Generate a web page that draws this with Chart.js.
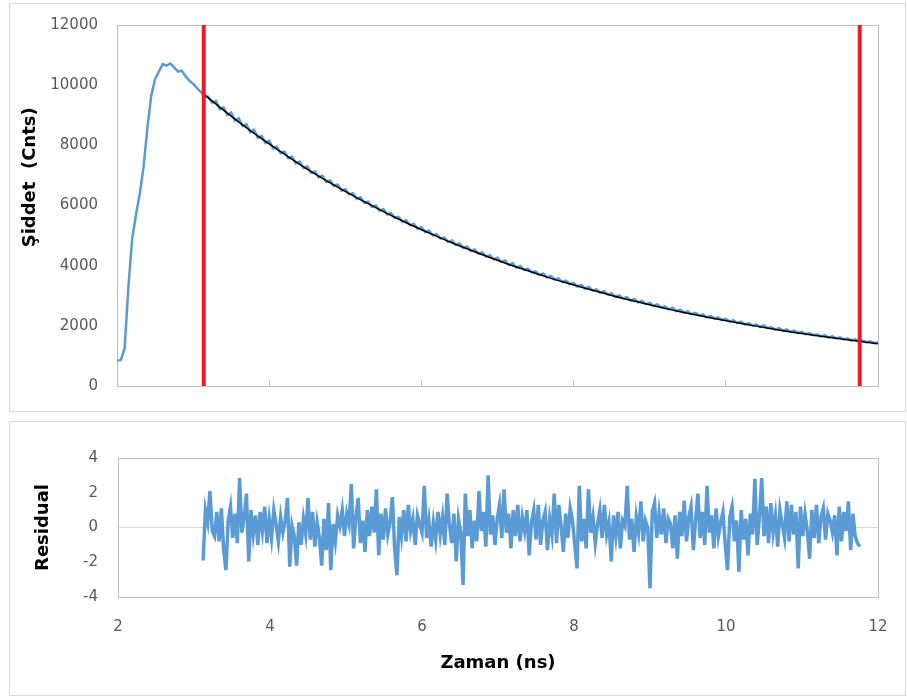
<!DOCTYPE html>
<html>
<head>
<meta charset="utf-8">
<script src="https://cdn.jsdelivr.net/npm/chart.js@4.4.0/dist/chart.umd.min.js"></script>
<style>
  body { margin: 0; background: #fff; }
  .box { position: absolute; left: 9px; width: 897px; border: 1px solid #d9d9d9; box-sizing: border-box; background: #fff; }
  #topBox { top: 3px; height: 409px; }
  #botBox { top: 421px; height: 275px; }
  canvas { display: block; }
</style>
</head>
<body>
<div class="box" id="topBox"><canvas id="decayChart" width="895" height="407"></canvas></div>
<div class="box" id="botBox"><canvas id="residChart" width="895" height="273"></canvas></div>
<script>
// measured decay, every 0.05 ns from 2.00 ns
var decayStart = 2.0, decayStep = 0.05;
var decayCounts = [
  850, 860, 1250, 3300, 4900, 5700, 6400, 7300, 8600, 9650,
  10200, 10450, 10700, 10650, 10720, 10600, 10450, 10480, 10300, 10150,
  10050, 9900, 9780,
  9650, 9610, 9420, 9480, 9200, 9260, 9010, 9090, 8820, 8900,
  8640, 8700, 8440, 8520, 8250, 8310, 8080, 8150, 7900, 7950,
  7740, 7790, 7570, 7620, 7400, 7460, 7240, 7300, 7090, 7130,
  6940, 6990, 6780, 6830, 6650, 6700, 6490, 6540, 6370, 6410,
  6220, 6270, 6090, 6130, 5960, 6000, 5830, 5880, 5700, 5750,
  5590, 5620, 5460, 5510, 5340, 5390, 5230, 5280, 5120, 5160,
  5010, 5050, 4900, 4940, 4790, 4840, 4690, 4740, 4590, 4640,
  4490, 4540, 4400, 4440, 4300, 4350, 4210, 4260, 4120, 4170,
  4030, 4080, 3940, 3990, 3860, 3900, 3780, 3810, 3690, 3740,
  3610, 3660, 3540, 3580, 3460, 3500, 3390, 3430, 3310, 3360,
  3240, 3290, 3170, 3210, 3100, 3150, 3040, 3080, 2970, 3010,
  2910, 2950, 2840, 2890, 2780, 2830, 2720, 2770, 2660, 2710,
  2610, 2650, 2550, 2600, 2490, 2540, 2440, 2480, 2390, 2430,
  2340, 2380, 2280, 2330, 2240, 2280, 2190, 2230, 2140, 2190,
  2090, 2140, 2050, 2090, 2000, 2050, 1960, 2010, 1920, 1960,
  1880, 1920, 1840, 1880, 1800, 1840, 1760, 1800, 1720, 1760,
  1690, 1720, 1650, 1690, 1610, 1650, 1580, 1620, 1540, 1580,
  1510, 1550, 1480, 1510, 1450, 1490, 1420, 1450
];

// fitted curve, every 0.25 ns from 3.15 ns
var fitStart = 3.15, fitStep = 0.25;
var fitCounts = [9680, 9170, 8680, 8220, 7790, 7370, 6980, 6610, 6260, 5930,
  5610, 5310, 5030, 4760, 4510, 4270, 4040, 3830, 3620, 3430,
  3250, 3080, 2910, 2760, 2610, 2470, 2340, 2220, 2100, 1990,
  1880, 1780, 1690, 1600, 1520, 1440, 1360];

// fit window limits (ns)
var windowTimes = [3.14, 11.76];

// residuals, every 0.03 ns from 3.12 ns
var residStart = 3.12, residStep = 0.03;
var residuals = [
  -1.9, 1.0, 0.3, 2.1, -0.2, -0.5, 0.9, -0.8, 1.1, -1.3,
  -2.45, 0.4, 1.2, -0.6, 0.8, -0.9, 2.85, -0.3, 0.6, 1.95,
  -1.95, 1.0, -0.4, 0.7, -1.0, 0.9, -0.2, 1.2, -0.9, 0.5,
  -0.6, 1.0, 0.2, -0.8, 0.6, -0.3, 0.4, 1.7, -2.25, 0.1,
  -0.5, -2.2, 0.3, -1.0, 0.5, -0.4, 1.7, -0.7, 0.9, -1.1,
  0.3, -0.6, -2.2, 0.5, -1.3, 1.4, -2.45, 0.2, -0.8, 0.7,
  0.1, 1.0, -0.5, 0.8, 0.2, 2.5, -1.2, 0.6, 1.7, -0.9,
  0.4, -1.4, 1.0, -0.5, 1.2, -0.3, 2.2, -1.6, 0.8, -0.7,
  1.1, -0.4, 0.3, 1.75, -1.2, -2.75, 0.6, -0.5, 1.0, -0.8,
  1.3, -0.2, 0.5, -1.0, 0.7, 0.2, -0.3, 2.4, -0.6, 0.4,
  -1.1, 0.3, -0.7, 0.9, -0.4, 0.6, -1.0, 1.95, 0.2, -0.9,
  0.8, -1.95, 0.5, -0.3, -3.3, 1.95, -0.5, 1.0, -1.2, 0.4,
  -0.8, 2.1, -0.2, 0.9, -1.1, 3.0, -0.4, 0.7, -1.0, 0.5,
  1.3, -0.6, 2.2, -0.3, 0.8, -1.2, 1.0, -0.5, 1.3, -0.8,
  0.6, -0.2, 1.0, -1.6, 0.3, 1.0, -0.7, 1.3, -1.0, 0.4,
  0.9, -1.3, 0.5, -0.4, 1.95, -0.9, 1.3, 0.1, -1.4, 0.8,
  -0.6, 1.1, 0.4, -1.0, -2.35, 2.4, -0.8, 0.5, -1.2, 2.2,
  -0.3, 0.6, -0.9, 0.2, 1.0, -0.6, 1.3, -0.4, 0.3, -1.95,
  0.7, -0.5, 0.9, -1.2, 0.4, 0.1, 2.4, -0.7, 0.5, -1.4,
  0.6, -0.3, 1.5, -0.8, 0.4, 0.0, -3.5, 0.9, 1.4, -0.6,
  0.8, -0.4, 1.1, -0.9, 0.5, 0.2, -1.2, 0.7, -1.8, 0.9,
  -0.5, 1.55, -0.8, 0.6, 1.2, -1.3, 0.4, 1.95, -0.6, 0.9,
  -1.0, 2.4, -0.3, 0.7, -1.2, 1.1, -0.5, 0.3, 0.9, -1.0,
  -2.45, 0.6, 1.2, -0.8, 0.4, -2.55, 1.0, -0.7, 0.5, -1.6,
  0.8, -0.4, 2.8, -1.0, 0.6, 2.85, -0.5, 1.2, -0.9, 1.4,
  -0.3, 0.7, -1.1, 1.0, 0.2, -0.6, 1.5, -0.8, 1.3, -0.4,
  0.9, -2.35, 1.2, -0.5, 0.8, -0.2, -1.8, 1.0, -0.6, 1.3,
  -0.9, 0.6, 1.1, -0.7, 0.8, 0.4, -0.3, 0.7, -1.6, 1.2,
  -0.8, 0.9, -0.2, 1.5, -1.3, 0.8, -0.5, -0.9, -1.1
];

var timeTicks = [2, 4, 6, 8, 10, 12];
var countTicks = [0, 2000, 4000, 6000, 8000, 10000, 12000];
var residTicks = [-4, -2, 0, 2, 4];

function toPoints(start, step, vals) {
  return vals.map(function (v, i) {
    return { x: Math.round((start + i * step) * 1000) / 1000, y: v };
  });
}

function setTicks(list) {
  return function (scale) {
    scale.ticks = list.map(function (v) { return { value: v }; });
  };
}

function plain(v) { return String(v); }

Chart.defaults.font.family = 'DejaVu Sans';
Chart.defaults.font.size = 15;
Chart.defaults.color = '#595959';

var frame = {
  id: 'frame',
  beforeDatasetsDraw: function (chart) {
    var a = chart.chartArea, c = chart.ctx;
    c.save();
    c.strokeStyle = '#bfbfbf';
    c.lineWidth = 1;
    c.strokeRect(Math.round(a.left) + 0.5, Math.round(a.top) + 0.5, a.right - a.left, a.bottom - a.top);
    c.restore();
  }
};

var titleFont = { family: 'DejaVu Sans', size: 18, weight: 'bold' };
var clear = 'rgba(0,0,0,0)';

var redLines = windowTimes.map(function (t) {
  return {
    data: [{ x: t, y: countTicks[0] }, { x: t, y: countTicks[countTicks.length - 1] }],
    borderColor: '#ed1c24',
    borderWidth: 4,
    pointRadius: 0,
    clip: false
  };
});

var ctx = document.getElementById('decayChart').getContext('2d');
var decayChart = new Chart(ctx, {
  type: 'line',
  data: {
    datasets: redLines.concat([
      {
        data: toPoints(fitStart, fitStep, fitCounts),
        borderColor: '#000000',
        borderWidth: 1.5,
        pointRadius: 0,
        tension: 0.3
      },
      {
        data: toPoints(decayStart, decayStep, decayCounts),
        borderColor: '#5b9bd5',
        borderWidth: 2.5,
        pointRadius: 0
      }
    ])
  },
  options: {
    responsive: false,
    animation: false,
    layout: { padding: { top: 21, right: 27, left: 0, bottom: 0 } },
    plugins: { legend: { display: false }, tooltip: { enabled: false } },
    scales: {
      x: {
        type: 'linear',
        min: timeTicks[0],
        max: timeTicks[timeTicks.length - 1],
        afterBuildTicks: setTicks(timeTicks),
        afterFit: function (s) { s.height = 25; },
        ticks: { display: false },
        grid: { display: true, drawOnChartArea: false, drawTicks: true, tickLength: -6, color: '#bfbfbf' },
        border: { display: false }
      },
      y: {
        min: countTicks[0],
        max: countTicks[countTicks.length - 1],
        afterBuildTicks: setTicks(countTicks),
        afterFit: function (s) { s.width = 107; },
        ticks: { padding: 0, callback: plain },
        grid: { display: true, drawOnChartArea: false, drawTicks: true, tickLength: 19, tickColor: clear, color: clear },
        border: { display: false },
        title: {
          display: true,
          text: '         Şiddet  (Cnts)',
          color: '#000000',
          font: titleFont,
          padding: { top: 10, bottom: 0 }
        }
      }
    }
  },
  plugins: [frame]
});

var ctx2 = document.getElementById('residChart').getContext('2d');
var residChart = new Chart(ctx2, {
  type: 'line',
  data: {
    datasets: [{
      data: toPoints(residStart, residStep, residuals),
      borderColor: '#5b9bd5',
      borderWidth: 3.5,
      pointRadius: 0
    }]
  },
  options: {
    responsive: false,
    animation: false,
    layout: { padding: { top: 36, right: 27, left: 0, bottom: 0 } },
    plugins: { legend: { display: false }, tooltip: { enabled: false } },
    scales: {
      x: {
        type: 'linear',
        min: timeTicks[0],
        max: timeTicks[timeTicks.length - 1],
        afterBuildTicks: setTicks(timeTicks),
        afterFit: function (s) { s.height = 98; },
        ticks: { padding: 0, callback: plain },
        grid: { display: true, drawOnChartArea: false, drawTicks: true, tickLength: 21, tickColor: clear, color: clear },
        border: { display: false },
        title: {
          display: true,
          text: 'Zaman (ns)',
          color: '#000000',
          font: titleFont,
          padding: { top: 0, bottom: 21 }
        }
      },
      y: {
        min: residTicks[0],
        max: residTicks[residTicks.length - 1],
        afterBuildTicks: setTicks(residTicks),
        afterFit: function (s) { s.width = 108; },
        ticks: { padding: 0, callback: plain },
        grid: {
          drawTicks: true,
          tickLength: 20,
          tickColor: clear,
          color: function (c) { return c.tick && c.tick.value === 0 ? '#d9d9d9' : clear; }
        },
        border: { display: false },
        title: {
          display: true,
          text: 'Residual',
          color: '#000000',
          font: titleFont,
          padding: { top: 23, bottom: 0 }
        }
      }
    }
  },
  plugins: [frame]
});
</script>
</body>
</html>
